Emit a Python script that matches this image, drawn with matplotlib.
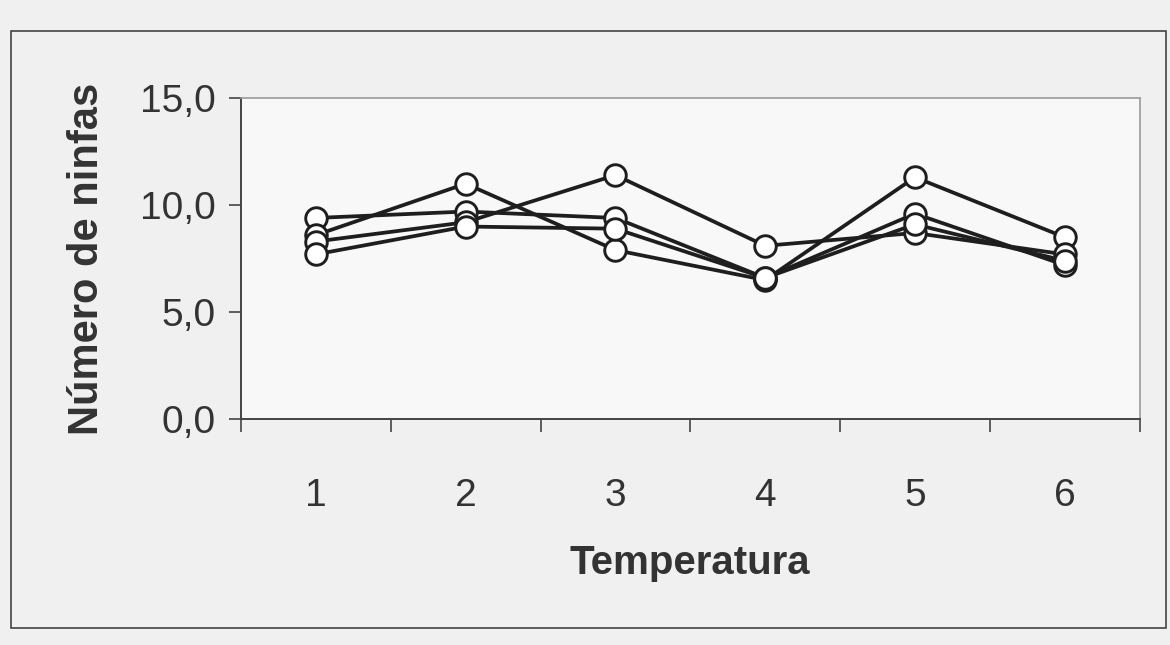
import numpy as np
import matplotlib
matplotlib.use("Agg")
import matplotlib.pyplot as plt
from matplotlib.patches import Rectangle

plt.rcParams['font.family'] = ['Liberation Sans', 'DejaVu Sans']

temperatura = [1, 2, 3, 4, 5, 6]
serie_a = [9.4, 9.7, 9.4, 6.6, 9.6, 7.2]
serie_b = [8.6, 11.0, 7.9, 6.5, 11.3, 8.5]
serie_c = [8.3, 9.2, 11.4, 8.1, 8.7, 7.7]
serie_d = [7.7, 9.0, 8.9, 6.6, 9.1, 7.4]
y_ticks = [0, 5, 10, 15]
y_tick_labels = ["0,0", "5,0", "10,0", "15,0"]

fig = plt.figure(figsize=(11.7, 6.45), dpi=100)
fig.patch.set_facecolor("#f0f0f0")

# outer chart frame
fig.patches.append(Rectangle((0.0095, 0.026), 0.987, 0.926, transform=fig.transFigure,
                             fill=False, edgecolor="#444444", linewidth=1.2))

ax = fig.add_axes([0.206, 0.350, 0.768, 0.498])
ax.set_facecolor("#f8f8f8")

for serie in [serie_a, serie_b, serie_c, serie_d]:
    ax.plot(temperatura, serie, color="#1e1e1e", linewidth=2.7, marker="o",
            markersize=15.5, markerfacecolor="white", markeredgecolor="#1e1e1e",
            markeredgewidth=2.1, zorder=3)

ax.set_xlim(0.5, 6.5)
ax.set_ylim(0, 15)
ax.set_yticks(y_ticks)
ax.set_yticklabels(y_tick_labels)
ax.set_xticks(temperatura)
ax.set_xticklabels([str(t) for t in temperatura])
ax.set_xticks(np.arange(0.5, 7, 1), minor=True)

ax.tick_params(axis="y", which="major", length=9, width=1.2, color="#444444",
               labelsize=28, labelcolor="#333333", pad=9)
ax.tick_params(axis="x", which="major", length=0, labelsize=28,
               labelcolor="#333333", pad=42)
ax.tick_params(axis="x", which="minor", length=9, width=1.2, color="#444444",
               direction="out")

for side in ["left", "bottom"]:
    ax.spines[side].set_color("#444444")
    ax.spines[side].set_linewidth(1.4)
for side in ["top", "right"]:
    ax.spines[side].set_color("#9a9a9a")
    ax.spines[side].set_linewidth(1.2)

ax.set_xlabel("Temperatura", fontsize=29, fontweight="bold", color="#333333", labelpad=22)
ax.set_ylabel("Número de ninfas", fontsize=30, fontweight="bold", color="#333333", labelpad=24)

fig.savefig("out.png", dpi=100, facecolor=fig.get_facecolor())
